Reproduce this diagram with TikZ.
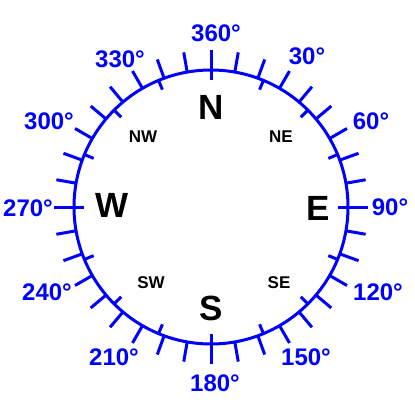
\documentclass[tikz,border=0pt]{standalone}
\usepackage{fontspec}
\setmainfont{Liberation Sans}
\usepackage{tikz}
\begin{document}
\begin{tikzpicture}[
    x=1pt, y=-1pt,
    ring/.style={draw=blue, line width=3pt},
    tickmark/.style={blue, line width=3pt},
    degree/.style={text=blue, inner sep=0pt,
      font=\fontsize{24}{24}\selectfont\bfseries},
    cardinal/.style={inner sep=0pt,
      font=\fontsize{35}{35}\selectfont\bfseries},
    intercardinal/.style={inner sep=0pt,
      font=\fontsize{17}{17}\selectfont\bfseries}
  ]
    \useasboundingbox (0,0) rectangle (415,415);
    \coordinate (c) at (211,207);
    \draw[ring] (c) circle[radius=137];

    % outer ticks every 10 degrees, inner ticks on the 16 compass points
    \foreach \a in {0,10,...,350}
      \draw[tickmark, shift={(c)}] (\a-90:137) -- (\a-90:157);
    \foreach \a in {0,22.5,...,350}
      \draw[tickmark, shift={(c)}] (\a-90:127) -- (\a-90:138);

    % bearings
    \foreach \a/\x/\y in {360/216/33, 30/307/56, 60/371/121, 90/390/207,
                          120/378/292, 150/306/357, 180/215/383, 210/114/357,
                          240/47/292, 270/28/208, 300/49/121, 330/120/59}
      \node[degree] (deg\a) at (\x,\y) {\a°};

    \node[cardinal] (north) at (211,107) {N};
    \node[cardinal] (east) at (318,208) {E};
    \node[cardinal] (south) at (211,308) {S};
    \node[cardinal] (west) at (112,205) {W};

    \node[intercardinal] (ne) at (281,137) {NE};
    \node[intercardinal] (nw) at (143,137) {NW};
    \node[intercardinal] (se) at (279,283) {SE};
    \node[intercardinal] (sw) at (151,283) {SW};
  \end{tikzpicture}
\end{document}
